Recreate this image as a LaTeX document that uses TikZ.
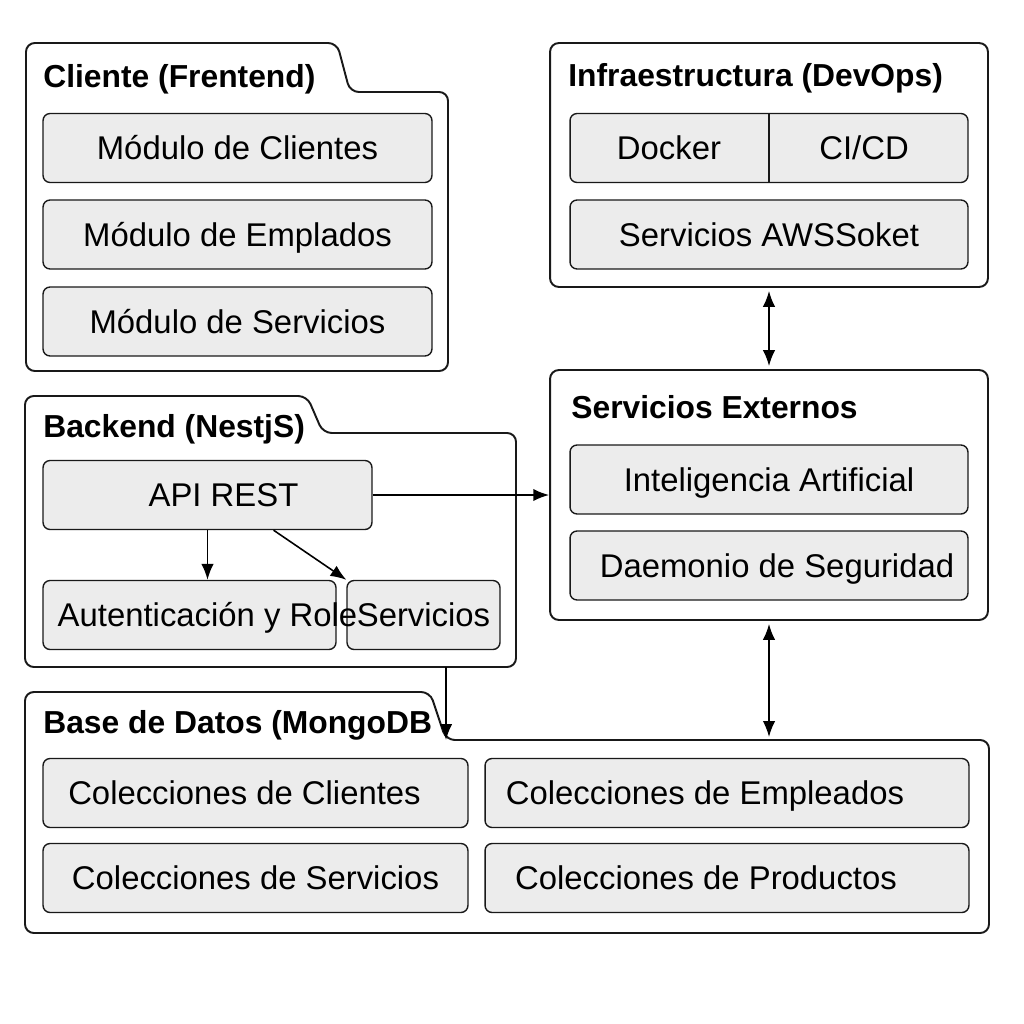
\documentclass[tikz,border=0pt]{standalone}
\usepackage{fontspec}
\setmainfont{Liberation Sans}
\usetikzlibrary{arrows,arrows.meta,calc}
\definecolor{boxgray}{RGB}{236,236,236}
\definecolor{inkblack}{RGB}{25,25,25}

\tikzset{
  outerbox/.style={draw=inkblack, line width=1.1pt, rounded corners=5pt},
  modbox/.style={draw=inkblack, line width=0.8pt, rounded corners=4pt, fill=boxgray,
    inner sep=0pt, minimum height=1.38cm, text height=13.4pt, text depth=0pt,
    font=\fontsize{18.7}{22}\selectfont},
  grptitle/.style={anchor=base west, inner sep=0pt, font=\fontsize{18.1}{22}\selectfont\bfseries},
  link/.style={line width=0.9pt, -{Latex[length=9pt,width=7pt]}},
  twoway/.style={line width=0.9pt, {Latex[length=9pt,width=7pt]}-{Latex[length=9pt,width=7pt]},
    shorten >=0.06cm, shorten <=0.06cm}
}

\begin{document}
\begin{tikzpicture}[x=0.02cm, y=-0.02cm]
\useasboundingbox (0,0) rectangle (1024,1024);

% Cliente (Frentend)
\draw[outerbox] (26,371) -- (26,43) -- (337,43) -- (350,92) -- (448,92) -- (448,371) -- cycle;
\node[grptitle] (tcli) at (43,88) {Cliente (Frentend)};
\foreach \y/\name/\txt in {148/mcli/Módulo de Clientes,234.5/memp/Módulo de Emplados,321.5/mser/Módulo de Servicios}
  \node[modbox, minimum width=7.78cm] (\name) at (237.5,\y) {\txt};

% Infraestructura (DevOps)
\node[outerbox, minimum width=8.76cm, minimum height=4.88cm] (infra) at (769,165) {};
\node[grptitle] (tinfra) at (568,87) {Infraestructura (DevOps)};
\node[modbox, minimum width=7.96cm] (tools) at (769,148) {};
\draw[draw=inkblack, line width=0.8pt] (tools.north) -- (tools.south);
\node[font=\fontsize{18.7}{22}\selectfont] (docker) at (669,148) {Docker};
\node[font=\fontsize{18.7}{22}\selectfont] (cicd) at (864,148) {CI/CD};
\node[modbox, minimum width=7.96cm] (aws) at (769,234.5) {Servicios AWSSoket};

% Servicios Externos
\node[outerbox, minimum width=8.76cm, minimum height=5.0cm] (ext) at (769,495) {};
\node[grptitle] (text) at (571,418) {Servicios Externos};
\node[modbox, minimum width=7.96cm] (ia) at (769,479.5) {Inteligencia Artificial};
\node[modbox, minimum width=7.96cm] (sec) at (769,565.5) {\hspace*{0.32cm}Daemonio de Seguridad};

% Backend (NestjS)
\draw[outerbox] (25,667) -- (25,396) -- (307,396) -- (323,433) -- (516,433) -- (516,667) -- cycle;
\node[grptitle] (tback) at (43,437) {Backend (NestjS)};
\node[modbox, minimum width=6.58cm] (api) at (207.5,495) {\hspace*{0.64cm}API REST};
\node[modbox, minimum width=3.06cm] (svc) at (423.5,615) {Servicios};
\node[modbox, minimum width=5.86cm] (auth) at (189.5,615) {\makebox[0pt]{\hspace*{0.72cm}Autenticación y Role}};
\coordinate (backS) at (446,667);

% Base de Datos (MongoDB
\draw[outerbox] (25,933) -- (25,692) -- (430,692) -- (446,740) -- (989,740) -- (989,933) -- cycle;
\node[grptitle] (tbase) at (43,733) {Base de Datos (MongoDB};
\coordinate (baseN) at (446,740);
\node[modbox, minimum width=8.5cm] (ccli) at (255.5,793) {Colecciones de Clientes\hspace*{0.44cm}};
\node[modbox, minimum width=8.5cm] (cser) at (255.5,878) {Colecciones de Servicios};
\node[modbox, minimum width=9.68cm] (cemp) at (727,793) {Colecciones de Empleados\hspace*{0.88cm}};
\node[modbox, minimum width=9.68cm] (cpro) at (727,878) {Colecciones de Productos\hspace*{0.84cm}};

% conexiones
\draw[link] (api.east) -- (api.east -| ext.west);
\draw[link] (api.south) -- (api.south |- auth.north);
\draw[link] ($(api.south west)!0.7!(api.south east)$) -- (svc.north west);
\draw[link] (backS) -- (baseN);
\draw[twoway] (infra.south) -- (ext.north);
\draw[twoway] (ext.south) -- (ext.south |- baseN);
\end{tikzpicture}
\end{document}
